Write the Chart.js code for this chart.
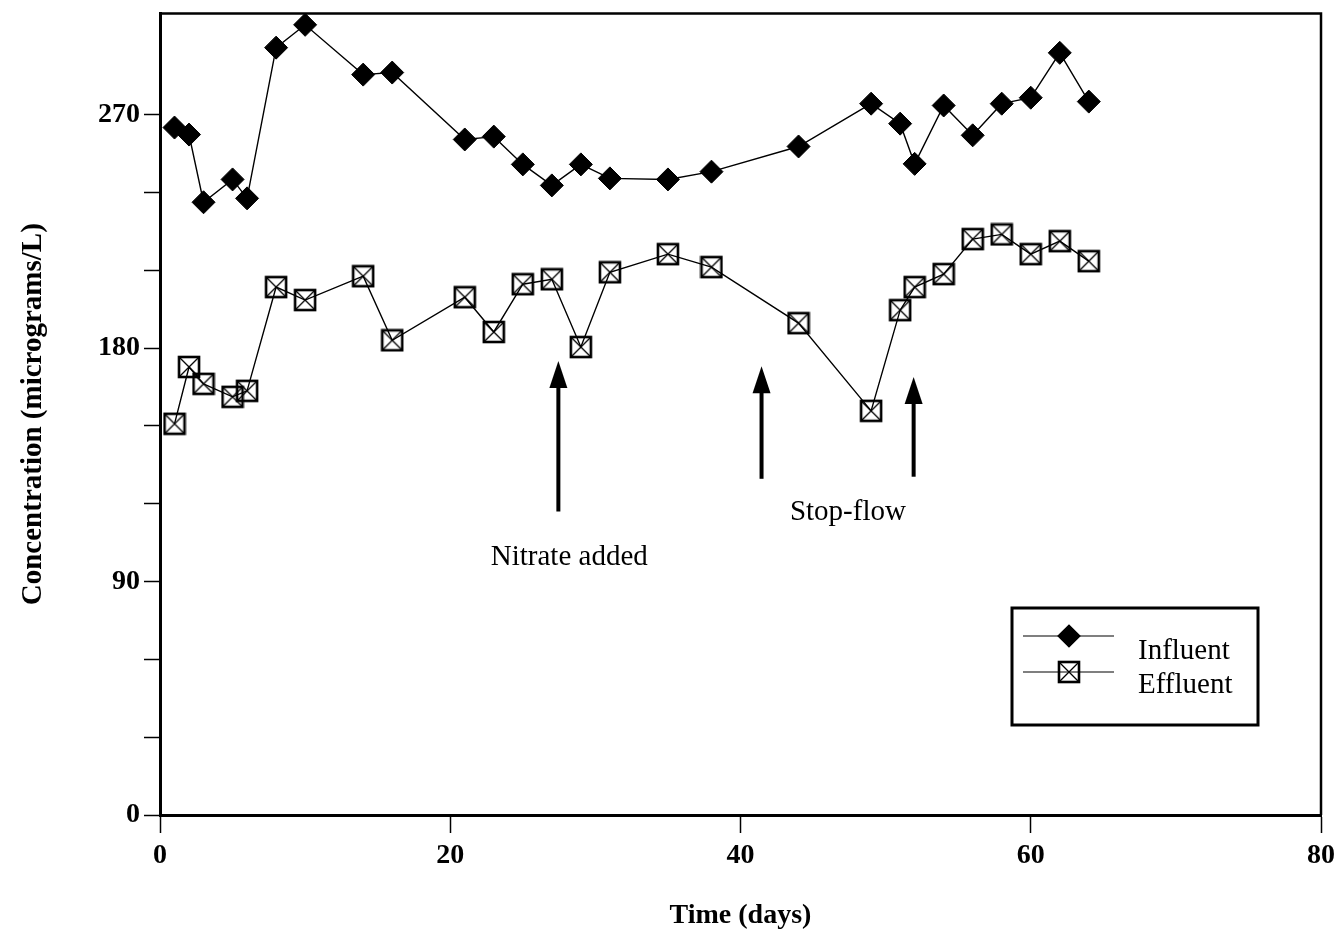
<!DOCTYPE html>
<html>
<head>
<meta charset="utf-8">
<title>Concentration vs time</title>
<script src="https://cdn.jsdelivr.net/npm/chart.js@4/dist/chart.umd.min.js"></script>
<style>
  html, body { margin: 0; padding: 0; background: #fff; }
  #wrap { width: 1342px; height: 939px; }
</style>
</head>
<body>
<div id="wrap"><canvas id="chart" width="1342" height="939"></canvas></div>
<script>
// --- data ---
const days = [1, 2, 3, 5, 6, 8, 10, 14, 16, 21, 23, 25, 27, 29, 31, 35, 38, 44, 49, 51, 52, 54, 56, 58, 60, 62, 64];
const influent = [265, 262.3, 236.2, 245, 237.7, 295.8, 304.6, 285.4, 286.2, 260.4, 261.5, 250.8, 242.7, 250.8,
                  245.4, 245, 248, 257.7, 274.2, 266.5, 251, 273.5, 262, 274.2, 276.5, 293.8, 275];
const effluent = [150.8, 172.7, 166.2, 161.2, 163.5, 203.5, 198.5, 207.7, 183, 199.6, 186.2, 204.6, 206.5, 180.4,
                  209.2, 216.2, 211.2, 189.6, 155.8, 194.6, 203.5, 208.5, 222, 223.8, 216.2, 221.2, 213.5];
const seriesNames = ['Influent', 'Effluent'];
const xTicks = [0, 20, 40, 60, 80];
const yLabelled = [0, 90, 180, 270];

// arrows: [day, tail value, tip value]
const arrows = [[27.45, 117, 175], [41.45, 129.6, 173], [51.93, 130.4, 168.8]];
// notes: [text, day, value]
const notes = [['Nitrate added', 28.2, 99.2], ['Stop-flow', 47.4, 116.5]];

const SERIF = "'Liberation Serif', 'Times New Roman', serif";

// crossed-box marker for the effluent series
function makeBoxMarker() {
  const c = document.createElement('canvas');
  c.width = 24; c.height = 24;
  const g = c.getContext('2d');
  g.strokeStyle = '#000';
  g.lineWidth = 2.6;
  g.strokeRect(2, 2, 20, 20);
  g.lineWidth = 1.3;
  g.beginPath();
  g.moveTo(3, 3); g.lineTo(21, 21);
  g.moveTo(21, 3); g.lineTo(3, 21);
  g.stroke();
  return c;
}
const boxMarker = makeBoxMarker();

// frame, arrows, notes and the boxed legend
const extras = {
  id: 'extras',
  afterDatasetsDraw(chart) {
    const { ctx, chartArea: a, scales: { x, y } } = chart;
    ctx.save();
    ctx.strokeStyle = '#000';
    ctx.fillStyle = '#000';

    // top and right frame lines
    ctx.lineWidth = 2.5;
    ctx.beginPath();
    ctx.moveTo(a.left, a.top); ctx.lineTo(a.right, a.top); ctx.lineTo(a.right, a.bottom);
    ctx.stroke();

    // arrows
    arrows.forEach(([d, from, to]) => {
      const px = x.getPixelForValue(d);
      const y0 = y.getPixelForValue(from);
      const y1 = y.getPixelForValue(to);
      ctx.lineWidth = 4;
      ctx.beginPath();
      ctx.moveTo(px, y0); ctx.lineTo(px, y1 + 20);
      ctx.stroke();
      ctx.beginPath();
      ctx.moveTo(px, y1); ctx.lineTo(px - 9, y1 + 27); ctx.lineTo(px + 9, y1 + 27);
      ctx.closePath();
      ctx.fill();
    });

    // notes
    ctx.font = '29px ' + SERIF;
    ctx.textAlign = 'center';
    ctx.textBaseline = 'middle';
    notes.forEach(([t, d, v]) => ctx.fillText(t, x.getPixelForValue(d), y.getPixelForValue(v)));

    // legend box
    const lx = 1012, ly = 608, lw = 246, lh = 117;
    ctx.lineWidth = 3;
    ctx.strokeRect(lx, ly, lw, lh);
    const rows = [ly + 28, ly + 64];
    ctx.lineWidth = 1.2;
    rows.forEach(ry => {
      ctx.beginPath(); ctx.moveTo(lx + 11, ry); ctx.lineTo(lx + 102, ry); ctx.stroke();
    });
    Chart.helpers.drawPoint(ctx, { pointStyle: 'rectRot', radius: 11, borderWidth: 1 }, lx + 57, rows[0]);
    ctx.fill();
    ctx.drawImage(boxMarker, lx + 57 - 12, rows[1] - 12);
    ctx.textAlign = 'left';
    ctx.fillText(seriesNames[0], lx + 126, ly + 43);
    ctx.fillText(seriesNames[1], lx + 126, ly + 77);
    ctx.restore();
  }
};

function zeroPad(scale) {
  scale.paddingTop = 0; scale.paddingBottom = 0;
  scale.paddingLeft = 0; scale.paddingRight = 0;
}

new Chart(document.getElementById('chart').getContext('2d'), {
  type: 'line',
  data: {
    datasets: [
      {
        label: seriesNames[0],
        data: days.map((d, i) => ({ x: d, y: influent[i] })),
        borderColor: '#000', borderWidth: 1.4,
        pointStyle: 'rectRot', pointRadius: 11.5,
        pointBackgroundColor: '#000', pointBorderColor: '#000', pointBorderWidth: 1,
        tension: 0
      },
      {
        label: seriesNames[1],
        data: days.map((d, i) => ({ x: d, y: effluent[i] })),
        borderColor: '#000', borderWidth: 1.4,
        pointStyle: boxMarker, pointRadius: 12,
        tension: 0
      }
    ]
  },
  options: {
    responsive: false,
    animation: false,
    events: [],
    layout: { padding: { left: 0, right: 21, top: 12, bottom: 0 } },
    plugins: { legend: { display: false }, tooltip: { enabled: false } },
    scales: {
      x: {
        type: 'linear', min: 0, max: 80,
        afterBuildTicks: s => { s.ticks = xTicks.map(v => ({ value: v })); },
        afterFit: s => { s.height = 124; zeroPad(s); },
        grid: { drawOnChartArea: false, drawTicks: true, tickLength: 18, tickWidth: 1.5, tickColor: '#000' },
        border: { display: true, width: 3, color: '#000' },
        ticks: { color: '#000', padding: 6, font: { family: SERIF, size: 28, weight: 'bold' } },
        title: { display: true, text: 'Time (days)', color: '#000',
                 font: { family: SERIF, size: 28, weight: 'bold', lineHeight: 1.2 }, padding: { top: 0, bottom: 6 } }
      },
      y: {
        type: 'linear', min: 0, max: 309,
        afterBuildTicks: s => { s.ticks = s.ticks.filter(t => t.value % 30 === 0); },
        afterFit: s => { s.width = 160; zeroPad(s); },
        grid: { drawOnChartArea: false, drawTicks: true, tickLength: 16, tickWidth: 1.5, tickColor: '#000' },
        border: { display: true, width: 3, color: '#000' },
        ticks: {
          stepSize: 30, color: '#000', padding: 4,
          font: { family: SERIF, size: 28, weight: 'bold' },
          callback: v => yLabelled.includes(v) ? String(v) : ''
        },
        title: { display: true, text: 'Concentration (micrograms/L)', color: '#000',
                 font: { family: SERIF, size: 29, weight: 'bold', lineHeight: 1.2 }, padding: { top: 16, bottom: 0 } }
      }
    }
  },
  plugins: [extras]
});
</script>
</body>
</html>
